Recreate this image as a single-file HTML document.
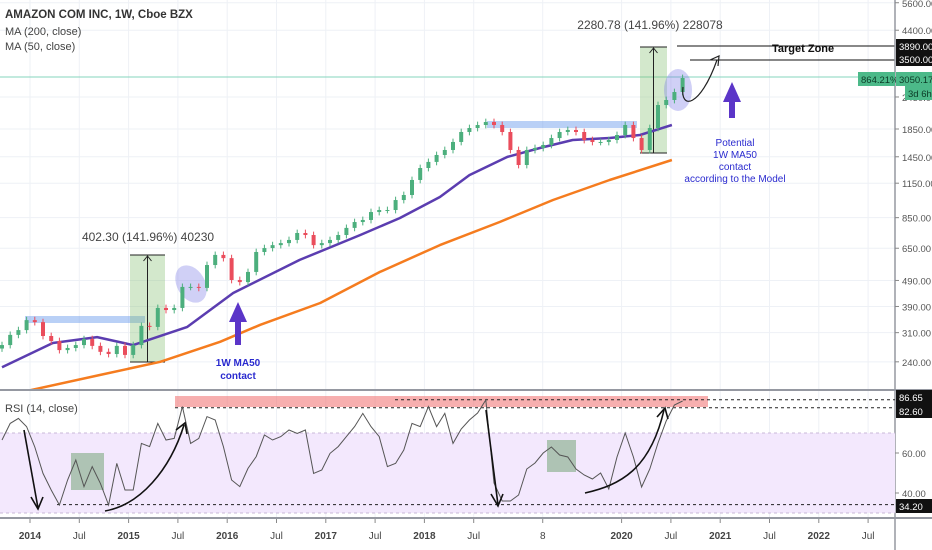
<!DOCTYPE html>
<html><head><meta charset="utf-8"><style>
html,body{margin:0;padding:0;background:#fff;}
svg{display:block;font-family:"Liberation Sans",sans-serif;}
</style></head><body>
<svg id="c" width="932" height="550" viewBox="0 0 932 550"></svg>
<script>
// ---- data ----
const closes=[278,304,317,346,340,301,288,266,271,278,293,276,262,257,276,255,278,329,326,385,378,385,463,463,459,561,613,596,492,483,528,629,651,668,680,699,743,730,668,680,699,730,777,818,833,893,909,909,992,1037,1183,1314,1386,1473,1539,1651,1802,1866,1916,1967,1916,1802,1539,1349,1539,1566,1608,1709,1802,1834,1802,1680,1651,1651,1680,1755,1916,1709,1539,1866,2283,2386,2559,2894];
const ma50Idx=[0,6.2,11.6,16,22.6,28.2,36.3,43.7,48.5,53.4,57,61.6,65.6,69.6,74.1,77.8,81.7];
const ma50Val=[229,283,298,278,326,439,587,730,847,1019,1235,1447,1566,1680,1709,1755,1916];
const ma200Idx=[-1,3.4,12,19.3,26.6,31.5,38.8,46.1,53.4,60.7,67.2,74.1,81.7];
const ma200Val=[170,187,214,240,286,332,402,528,668,818,992,1183,1410];
const rsi=[66.5,74.8,77.3,73.2,63,49.8,41.5,34,46.5,56.5,43.2,53.2,44.8,34,54.8,41.5,41.5,64.8,63.2,74.8,66.5,67.3,83.2,64.8,67.3,78.2,76.5,63.2,46.5,43.2,52.3,58.2,69,66.5,68.2,71.5,69.8,71.5,49.8,51.5,59.8,63.2,68.2,73.2,79.8,73.2,68.2,53.2,54.8,61.5,74.8,73.2,83.2,73.2,79.8,64.8,72,76.5,80,86.5,45,36,36,39,52,55,60,63,59,58,52,49,47,50,42,58,70,58,43,52,65,76,84,86];
const priceTicks=[5600,4400,2450,1850,1450,1150,850,650,490,390,310,240];
const rsiTicks=[60,40];
const timeLabels=["2014","Jul","2015","Jul","2016","Jul","2017","Jul","2018","Jul","8","2020","Jul","2021","Jul","2022","Jul"];
const timePos=[0,0.5,1,1.5,2,2.5,3,3.5,4,4.5,5.2,6,6.5,7,7.5,8,8.5];

// ---- axes ----
const yP=p=>129-(Math.log(p)-Math.log(1850))*114;
const yR=v=>453-(v-60)*2;
const xM=i=>2+8.2*i;
const xT=t=>30+t*98.6;

const svg=document.getElementById('c');
const NS='http://www.w3.org/2000/svg';
function mk(tag,attrs,parent){const e=document.createElementNS(NS,tag);for(const k in attrs)e.setAttribute(k,attrs[k]);(parent||svg).appendChild(e);return e;}
function txt(s,attrs,parent){const e=mk('text',attrs,parent);e.textContent=s;return e;}

// grid
const grid=mk('g',{});


timePos.forEach(t=>mk('line',{x1:xT(t),x2:xT(t),y1:0,y2:518,stroke:'#eef1f6','stroke-width':1},grid));
priceTicks.forEach(p=>mk('line',{x1:0,x2:895,y1:yP(p),y2:yP(p),stroke:'#eef1f6','stroke-width':1},grid));
rsiTicks.forEach(v=>mk('line',{x1:0,x2:895,y1:yR(v),y2:yR(v),stroke:'#eef1f6'},grid));

// teal last price line
const tl=mk('line',{x1:0,x2:895,y1:77,y2:77,stroke:'#86d4bd','stroke-width':1});



// blue resistance rects
let r=mk('rect',{x:25,y:316,width:120,height:7,fill:'rgba(100,150,235,0.45)'});


r=mk('rect',{x:487,y:121,width:150,height:7,fill:'rgba(100,150,235,0.45)'});



// measure boxes
function measure(x1,x2,y1,y2,label,lx,ly,name){
  const g=mk('g',{});
  
  
  mk('rect',{x:x1,y:y1,width:x2-x1,height:y2-y1,fill:'rgba(130,190,110,0.35)'},g);
  mk('line',{x1:x1,x2:x2,y1:y1,y2:y1,stroke:'#222'},g);
  mk('line',{x1:x1,x2:x2,y1:y2,y2:y2,stroke:'#222'},g);
  const xm=(x1+x2)/2;
  mk('line',{x1:xm,x2:xm,y1:y2,y2:y1+1,stroke:'#222'},g);
  mk('path',{d:`M${xm-4},${y1+6} L${xm},${y1+1} L${xm+4},${y1+6}`,fill:'none',stroke:'#222'},g);
  txt(label,{x:lx,y:ly,'font-size':12,fill:'#444','text-anchor':'middle'},g);
}
measure(130,165,255,362,'402.30 (141.96%) 40230',148,241,'measure-box-2015');
measure(640,667,47,153,'2280.78 (141.96%) 228078',650,29,'measure-box-2020');

// ellipses
r=mk('ellipse',{cx:191,cy:284,rx:14,ry:20,transform:'rotate(-30 191 284)',fill:'rgba(120,120,230,0.35)'});


r=mk('ellipse',{cx:678,cy:90,rx:14,ry:21,fill:'rgba(120,120,230,0.35)'});



// MA lines
function maPath(idx,val){return idx.map((i,k)=>(k?'L':'M')+xM(i).toFixed(1)+','+yP(val[k]).toFixed(1)).join(' ');}
const clipP=mk('clipPath',{id:'cp'});mk('rect',{x:0,y:0,width:895,height:389},clipP);
r=mk('path',{d:maPath(ma200Idx,ma200Val),fill:'none',stroke:'#f57c1f','stroke-width':2.5,'stroke-linejoin':'round','clip-path':'url(#cp)'});


r=mk('path',{d:maPath(ma50Idx,ma50Val),fill:'none',stroke:'#5b3db0','stroke-width':2.5,'stroke-linejoin':'round','clip-path':'url(#cp)'});



// candles
const cg=mk('g',{});


closes.forEach((c,i)=>{
  const o=i?closes[i-1]:c*0.97;
  const up=c>=o, col=up?'#4caf7d':'#ea4d5c';
  const x=xM(i);
  const hi=Math.max(o,c)*1.03, lo=Math.min(o,c)/1.03;
  mk('line',{x1:x,x2:x,y1:yP(hi),y2:yP(lo),stroke:col,'stroke-width':1},cg);
  const b=mk('rect',{x:x-2,y:yP(Math.max(o,c)),width:4,height:Math.max(1,yP(Math.min(o,c))-yP(Math.max(o,c))),fill:col},cg);
  
  
});

// target lines
r=mk('line',{x1:677,x2:895,y1:46,y2:46,stroke:'#111'});


r=mk('line',{x1:690,x2:895,y1:60,y2:60,stroke:'#111'});


r=txt('Target Zone',{x:772,y:52,'font-size':11,'font-weight':'bold',fill:'#111'});



// curved arrow
r=mk('path',{d:'M683,87 C680,110 700,108 717,60',fill:'none',stroke:'#222','stroke-width':1.2});


mk('path',{d:'M710,60 L719,56 L718,66',fill:'none',stroke:'#222','stroke-width':1.2});

// purple arrows
function upArrow(x,yTop,yBot,name){
  const p=mk('path',{d:`M${x-3},${yBot} L${x-3},${yTop+20} L${x-9},${yTop+20} L${x},${yTop} L${x+9},${yTop+20} L${x+3},${yTop+20} L${x+3},${yBot} Z`,fill:'#5b35c8'});
  
  
}
upArrow(238,302,345,'ma50-contact-arrow');
upArrow(732,82,118,'potential-contact-arrow');
const note1=[['1W MA50',366],['contact',379]];
note1.forEach(([s,y])=>{const t=txt(s,{x:238,y:y,'font-size':10,'font-weight':'bold',fill:'#2a2acf','text-anchor':'middle'});});
const note2=[['Potential',146],['1W MA50',158],['contact',170],['according to the Model',182]];
note2.forEach(([s,y])=>{const t=txt(s,{x:735,y:y,'font-size':10,fill:'#2a2acf','text-anchor':'middle'});});

// legend
r=txt('AMAZON COM INC, 1W, Cboe BZX',{x:5,y:18,'font-size':11.5,'font-weight':'bold',fill:'#333'});

r=txt('MA (200, close)',{x:5,y:35,'font-size':11,fill:'#444'});

r=txt('MA (50, close)',{x:5,y:50,'font-size':11,fill:'#444'});


// pane separators
mk('line',{x1:0,x2:932,y1:390,y2:390,stroke:'#9598a1','stroke-width':2});
mk('line',{x1:0,x2:932,y1:518,y2:518,stroke:'#9598a1','stroke-width':2});
mk('line',{x1:895,x2:895,y1:0,y2:550,stroke:'#9598a1','stroke-width':1.5});

// RSI pane
const rg=mk('g',{});


mk('rect',{x:0,y:yR(70),width:895,height:yR(30)-yR(70),fill:'#f3e8fd'},rg);
mk('line',{x1:0,x2:895,y1:yR(70),y2:yR(70),stroke:'#c9b8d8','stroke-dasharray':'3 3'},rg);
mk('line',{x1:0,x2:895,y1:yR(30),y2:yR(30),stroke:'#c9b8d8','stroke-dasharray':'3 3'},rg);
r=mk('rect',{x:175,y:396,width:533,height:11,fill:'rgba(240,110,110,0.55)'},rg);

mk('line',{x1:395,x2:895,y1:yR(86.65),y2:yR(86.65),stroke:'#222','stroke-dasharray':'3 3'},rg);
mk('line',{x1:175,x2:895,y1:yR(82.6),y2:yR(82.6),stroke:'#222','stroke-dasharray':'3 3'},rg);
mk('line',{x1:57,x2:895,y1:yR(34.2),y2:yR(34.2),stroke:'#222','stroke-dasharray':'3 3'},rg);
r=mk('rect',{x:71,y:453,width:33,height:37,fill:'rgba(90,150,90,0.45)'},rg);

r=mk('rect',{x:547,y:440,width:29,height:32,fill:'rgba(90,150,90,0.45)'},rg);

r=mk('path',{d:rsi.map((v,i)=>(i?'L':'M')+xM(i).toFixed(1)+','+yR(v).toFixed(1)).join(' '),fill:'none',stroke:'#555','stroke-width':1},rg);

const ar=[['M24,430 L38,508','M31,497 L38,509 L43,497'],['M105,511 C140,505 170,470 184,425','M176,430 L185,423 L187,434'],['M486,410 L498,505','M491,494 L498,506 L503,494'],['M585,493 C620,485 650,470 664,410','M657,417 L665,408 L668,419']];
ar.forEach(([a,b])=>{const p=mk('path',{d:a,fill:'none',stroke:'#111','stroke-width':1.6},rg);mk('path',{d:b,fill:'none',stroke:'#111','stroke-width':1.6},rg);});
r=txt('RSI (14, close)',{x:5,y:412,'font-size':11,fill:'#444'});


// price axis labels
const ax=mk('g',{});


priceTicks.forEach(p=>{mk('line',{x1:895,x2:899,y1:yP(p),y2:yP(p),stroke:'#888'},ax);txt(p.toFixed(2),{x:902,y:yP(p)+4,'font-size':9.5,fill:'#555'},ax);});
rsiTicks.forEach(v=>{mk('line',{x1:895,x2:899,y1:yR(v),y2:yR(v),stroke:'#888'},ax);txt(v.toFixed(2),{x:902,y:yR(v)+4,'font-size':9.5,fill:'#555'},ax);});
function tag(s,y,bg,fg,x,w,name){const g=mk('g',{});mk('rect',{x:x,y:y-7,width:w,height:14,fill:bg},g);txt(s,{x:x+3,y:y+4,'font-size':9.5,fill:fg},g);}
tag('3890.00',46,'#111','#fff',896,36,'label-3890');
tag('3500.00',59,'#111','#fff',896,36,'label-3500');
tag('864.21%',79,'#4cb989','#0b3a26',858,37,'label-percent');
tag('3050.17',79,'#4cb989','#0b3a26',896,36,'label-last-price');
tag('3d 6h',93,'#4cb989','#0b3a26',905,27,'label-countdown');
tag('86.65',397,'#111','#fff',896,36,'label-rsi-86');
tag('82.60',411,'#111','#fff',896,36,'label-rsi-82');
tag('34.20',506,'#111','#fff',896,36,'label-rsi-34');

// time axis
const tg=mk('g',{});


timeLabels.forEach((s,k)=>{const x=xT(timePos[k]);mk('line',{x1:x,x2:x,y1:519,y2:523,stroke:'#888'},tg);txt(s,{x:x,y:539,'font-size':10,fill:'#444','text-anchor':'middle','font-weight':/^\d{4}$/.test(s)?'bold':'normal'},tg);});
</script>
</body></html>
